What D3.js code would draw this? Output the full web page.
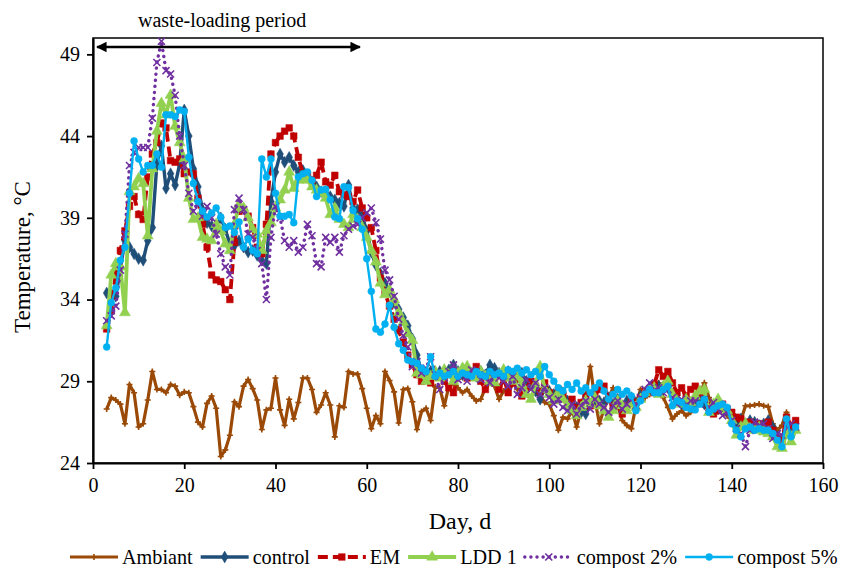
<!DOCTYPE html>
<html><head><meta charset="utf-8">
<script src="https://cdn.jsdelivr.net/npm/d3@7"></script>
<style>body{margin:0;background:#fff}svg{display:block}text{font-family:"Liberation Serif","Times New Roman",serif;fill:#000}</style>
</head><body><div id="chart"></div>
<script>
const days = d3.range(3, 155);
const seriesNames = ["Ambiant","control","EM","LDD 1","compost 2%","compost 5%"];
const xTicks = [0,20,40,60,80,100,120,140,160];
const yTicks = [24,29,34,39,44,49];

const ambiant = [27.3,28.0,27.85,27.6,26.4,28.8,28.3,26.2,26.4,27.85,
29.6,28.5,28.5,28.3,28.8,28.7,28.15,28.35,28.3,27.45,
26.5,26.2,27.65,28.1,27.35,24.4,24.8,25.7,27.75,27.45,
28.7,29.1,28.55,27.85,26.05,27.25,27.35,29.2,27.25,26.3,
27.9,26.7,27.7,29.2,29.2,28.5,27.1,27.55,28.3,27.55,
25.6,27.5,27.4,29.6,29.45,29.45,28.55,27.35,26.1,26.9,
26.4,29.6,29.05,28.35,26.45,28.5,28.55,27.75,26.05,27.15,
27.35,26.6,28.66,28.6,27.5,28.7,28.9,28.6,28.3,28.5,
28.1,27.8,27.9,28.6,28.9,28.7,27.9,28.4,28.6,28.9,
28.5,28.7,28.4,28.8,28.3,28.1,27.7,27.6,26.9,26.0,
26.8,26.7,27.2,26.2,27.3,28.0,29.9,27.9,26.4,27.3,
28.0,28.6,27.5,26.6,26.3,26.1,27.5,28.5,28.0,28.2,
28.9,28.9,28.0,27.4,26.7,27.0,27.2,26.9,27.1,27.5,
28.2,28.9,28.0,27.5,27.4,27.3,26.9,26.6,26.0,26.6,
27.5,27.5,27.55,27.6,27.5,27.45,26.4,26.0,26.3,27.1,
26.0,26.6];

const control = [34.4,34.3,34.2,35.9,37.6,37.2,36.8,36.5,36.4,37.6,
38.4,42.3,43.4,40.8,41.7,41.0,42.3,45.6,44.0,42.0,
40.9,39.5,38.7,38.5,38.5,39.0,38.3,37.4,37.3,37.6,
37.2,36.9,37.0,36.7,36.4,36.2,40.0,41.8,42.9,42.4,
42.7,42.2,41.8,41.9,41.6,41.2,40.9,40.6,40.5,40.3,
40.1,39.9,39.7,41.0,39.6,39.5,39.1,38.2,36.9,36.1,
35.6,35.0,34.5,33.8,33.4,32.9,32.4,31.6,30.6,29.6,
29.3,29.6,29.5,29.6,29.4,29.7,30.0,29.6,29.4,29.7,
29.5,29.3,29.6,29.4,30.0,29.8,29.5,29.3,29.6,29.4,
29.2,29.5,29.0,28.8,28.4,27.9,28.6,28.4,28.2,28.0,
28.3,27.8,27.6,27.4,27.1,27.0,27.6,27.9,27.8,27.7,
28.0,27.6,27.9,27.4,27.8,28.0,27.7,28.1,28.3,28.5,
28.4,28.7,28.5,28.6,28.2,27.9,27.6,27.8,27.5,27.7,
27.9,27.6,27.4,27.5,27.3,27.5,27.2,26.9,26.5,26.7,
26.4,26.6,26.5,26.3,26.4,26.6,26.2,25.6,25.4,26.6,
26.0,26.4];

const em = [32.2,33.3,35.6,37.0,38.2,39.7,40.3,39.2,38.9,41.5,
42.9,43.6,44.8,44.5,42.5,42.4,42.6,41.7,41.8,41.7,
40.2,38.6,37.2,35.5,35.2,35.1,34.6,34.0,37.5,39.4,
39.5,39.1,38.4,37.2,36.8,38.6,42.9,43.6,44.0,44.3,
44.5,44.0,42.7,41.7,41.6,41.3,41.6,42.4,41.2,41.0,
41.6,40.6,40.4,40.3,40.0,40.7,39.6,39.0,38.4,37.0,
35.3,34.4,33.6,32.8,32.1,31.4,30.6,30.0,29.4,29.0,
29.1,28.9,29.3,29.5,29.0,28.6,28.3,29.3,29.6,29.2,
29.5,29.9,29.0,28.5,29.4,28.9,28.5,29.2,28.3,28.9,
29.3,28.1,28.6,29.0,28.7,28.4,28.9,28.3,28.0,28.5,
28.1,27.6,27.9,27.3,27.7,28.1,27.5,28.2,28.5,28.7,
27.9,27.4,27.6,27.0,27.5,27.9,27.7,28.0,28.4,28.3,
28.8,29.7,29.3,29.6,28.9,28.3,28.6,28.1,28.5,28.7,
28.3,27.9,27.5,27.0,27.2,27.6,27.3,27.1,26.8,26.7,
26.2,26.5,26.3,26.4,26.2,26.5,26.0,25.5,25.3,26.8,
26.3,26.6];

const ldd1 = [32.4,35.5,36.2,36.0,33.2,40.6,40.9,41.4,41.1,37.9,
42.0,44.3,46.0,45.3,46.5,44.6,43.6,42.6,40.2,38.9,
39.0,37.8,37.7,37.6,38.6,38.2,37.4,37.0,38.6,39.8,
39.6,39.0,38.3,38.0,37.0,38.2,38.7,39.6,40.1,40.7,
41.8,40.8,41.3,41.4,41.3,40.9,40.7,40.5,40.2,39.2,
39.6,38.9,38.6,38.4,39.2,38.9,38.4,37.8,37.0,36.3,
35.0,34.3,34.6,34.0,33.2,32.6,31.9,31.5,29.5,29.4,
29.0,29.3,29.6,29.2,29.7,29.4,29.0,29.5,29.8,29.9,
29.4,29.2,29.6,29.3,29.0,28.9,29.4,29.7,29.2,29.0,
29.3,28.8,28.2,27.9,28.8,29.9,28.5,28.2,27.8,28.3,
27.9,27.5,27.2,26.9,27.4,27.8,27.6,28.0,27.5,27.2,
26.8,27.2,27.8,27.5,27.2,27.6,27.4,27.9,28.3,28.5,
28.6,28.2,28.7,29.0,28.2,27.8,27.6,27.9,27.7,28.1,
28.4,28.5,27.1,27.6,27.9,27.4,27.2,26.6,25.7,26.2,
26.4,26.1,26.0,26.2,25.9,25.8,25.6,25.0,24.9,25.8,
25.3,26.0];

const compost2 = [32.7,33.0,33.6,35.8,38.0,42.2,43.0,43.3,43.3,43.3,
45.1,48.5,49.8,48.0,47.8,46.5,44.0,42.2,40.5,39.4,
39.9,39.1,39.7,39.0,38.0,36.8,36.0,35.5,39.5,40.2,
39.5,38.0,37.8,37.0,36.2,34.0,37.8,39.7,39.0,37.6,
37.2,37.6,36.9,37.2,38.6,37.9,36.2,36.0,37.8,37.5,
37.8,36.9,37.9,38.3,38.5,38.6,39.0,39.3,39.6,38.7,
37.7,35.8,35.2,34.2,32.8,31.8,31.1,29.9,30.2,29.5,
29.8,30.5,29.4,28.5,29.2,29.6,30.0,29.1,29.4,29.0,
29.7,29.6,29.1,29.4,28.9,29.5,29.2,29.0,28.7,29.3,
28.2,28.6,29.1,28.5,28.9,28.2,28.6,28.0,27.6,27.9,
27.4,27.2,27.6,27.0,27.5,27.8,27.3,27.9,27.6,27.4,
27.1,27.5,27.8,27.3,27.6,27.9,27.5,28.0,28.5,28.9,
28.4,28.6,28.3,28.5,28.0,27.6,27.9,27.5,27.8,27.8,
27.6,27.9,27.4,27.7,27.3,26.9,27.1,26.6,26.1,25.8,
25.0,26.0,26.5,26.3,26.4,26.1,25.5,25.8,25.7,26.2,
26.4,26.2];

const compost5 = [31.1,33.8,34.7,36.4,37.2,40.5,43.7,42.6,41.8,42.2,
42.2,42.9,42.1,45.3,45.3,45.2,45.6,45.5,42.7,41.1,
40.0,39.4,39.05,39.3,39.6,39.05,38.4,38.5,38.1,38.75,
37.2,37.7,37.0,36.8,42.6,41.5,42.6,40.5,39.1,39.1,
39.2,38.7,41.5,41.7,41.8,41.3,40.3,40.7,40.75,40.1,
39.05,38.95,40.9,40.85,39.45,38.95,38.3,36.5,34.5,32.2,
32.0,32.5,33.65,32.3,31.3,30.9,30.3,30.2,30.1,29.8,
29.6,30.5,29.3,29.5,29.3,29.4,29.6,29.3,29.5,29.4,
29.3,29.6,29.4,29.3,29.6,29.4,29.5,29.3,29.7,29.6,
29.8,29.5,29.7,29.4,29.6,29.3,29.9,29.4,29.0,28.6,
28.4,28.8,28.5,28.9,28.4,28.6,28.3,28.6,28.9,28.4,
27.9,28.2,28.5,28.2,28.4,28.1,27.2,27.8,28.2,28.5,
28.3,28.3,28.5,28.7,27.5,27.8,27.7,27.4,27.3,27.25,
27.6,27.9,27.1,27.3,27.5,27.6,27.4,26.4,26.0,25.6,
26.1,26.2,26.0,26.1,26.0,26.0,25.8,25.4,25.0,26.7,
25.6,26.2];

const W = 841, H = 568;
const svg = d3.select("#chart").append("svg").attr("width", W).attr("height", H);
const x = d3.scaleLinear().domain([0,160]).range([93,823]);
const y = d3.scaleLinear().domain([24,50]).range([463,38]);

const styles = [
  {data: ambiant, color:"#9a4a06", width:3.2, dash:null, sym:d3.symbolPlus, size:14, fill:false},
  {data: control, color:"#1f4e79", width:3.4, dash:null, sym:d3.symbolDiamond, size:40, fill:true},
  {data: em, color:"#c00000", width:3.8, dash:"10,5", sym:d3.symbolSquare, size:44, fill:true},
  {data: ldd1, color:"#92d050", width:3.8, dash:null, sym:d3.symbolTriangle, size:52, fill:true},
  {data: compost2, color:"#7030a0", width:3.4, dash:"0.1,6", sym:d3.symbolX, size:34, fill:false},
  {data: compost5, color:"#00b0f0", width:2.4, dash:null, sym:d3.symbolCircle, size:38, fill:true}
];

// frame
svg.append("rect").attr("x",93).attr("y",38).attr("width",730).attr("height",425)
  .attr("fill","none").attr("stroke","#000").attr("stroke-width",1.5);

const line = d3.line().x((d,i)=>x(days[i])).y(d=>y(d));
styles.forEach((s,si)=>{
  const g = svg.append("g");
  g.append("path").datum(s.data).attr("d", line).attr("fill","none")
    .attr("stroke", s.color).attr("stroke-width", s.width)
    .attr("stroke-dasharray", s.dash).attr("stroke-linecap", s.dash && s.dash.startsWith("0.1") ? "round" : "butt")
    .attr("stroke-linejoin","round");
  const sym = d3.symbol().type(s.sym).size(s.size);
  g.selectAll("path.m").data(s.data).join("path").attr("class","m")
    .attr("transform",(d,i)=>`translate(${x(days[i])},${y(d)})`)
    .attr("d", sym())
    .attr("fill", s.fill ? s.color : "none")
    .attr("stroke", s.color).attr("stroke-width", s.fill ? 0.5 : 1.6);
});

// axes
const xAxis = svg.append("g").attr("transform","translate(0,463)")
  .call(d3.axisBottom(x).tickValues(xTicks).tickSize(6).tickSizeOuter(0));
const yAxis = svg.append("g").attr("transform","translate(93,0)")
  .call(d3.axisLeft(y).tickValues(yTicks).tickSize(6).tickSizeOuter(0));
[xAxis,yAxis].forEach(a=>{
  a.select(".domain").attr("stroke","#000").attr("stroke-width",2.2);
  a.selectAll(".tick line").attr("stroke","#000").attr("stroke-width",1.8);
  a.selectAll(".tick text").attr("font-family","Liberation Serif").attr("font-size",20).attr("fill","#000");
});
xAxis.selectAll(".tick text").attr("dy","1.0em");
yAxis.selectAll(".tick text").attr("dx","-0.2em");

svg.append("text").attr("x",460).attr("y",529).attr("text-anchor","middle")
  .attr("font-size",24).text("Day, d");
svg.append("text").attr("transform","translate(30,257) rotate(-90)").attr("text-anchor","middle")
  .attr("font-size",23).text("Temperature, °C");

// waste-loading arrow
svg.append("defs").html('<marker id="ah" viewBox="0 0 10 10" refX="9" refY="5" markerWidth="5" markerHeight="4.2" orient="auto-start-reverse"><path d="M0,0L10,5L0,10z" fill="#000"/></marker>');
svg.append("line").attr("x1",x(0.9)).attr("x2",x(58.5)).attr("y1",y(49.45)).attr("y2",y(49.45))
  .attr("stroke","#000").attr("stroke-width",2.5)
  .attr("marker-start","url(#ah)").attr("marker-end","url(#ah)");
svg.append("text").attr("x",x(28.3)).attr("y",27).attr("text-anchor","middle")
  .attr("font-size",20).text("waste-loading period");

// legend
let lx = 70;
const ly = 557;
styles.forEach((s,i)=>{
  const g = svg.append("g");
  g.append("line").attr("x1",lx).attr("x2",lx+48).attr("y1",ly).attr("y2",ly)
    .attr("stroke",s.color).attr("stroke-width",s.width)
    .attr("stroke-dasharray",s.dash).attr("stroke-linecap", s.dash && s.dash.startsWith("0.1") ? "round" : "butt");
  g.append("path").attr("transform",`translate(${lx+24},${ly})`).attr("d", d3.symbol().type(s.sym).size(s.size)())
    .attr("fill", s.fill ? s.color : "none").attr("stroke", s.color).attr("stroke-width", s.fill?0.5:1.6);
  const t = g.append("text").attr("x",lx+52).attr("y",ly+6.5).attr("font-size",20.2).text(seriesNames[i]);
  lx = lx + 52 + t.node().getComputedTextLength() + 8;
});
</script></body></html>
